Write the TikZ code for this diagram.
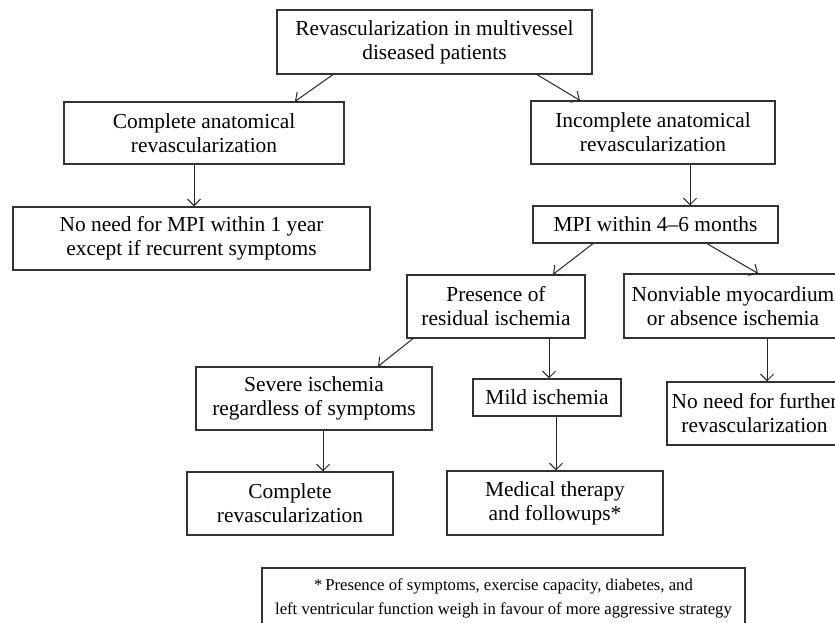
\documentclass[tikz,border=0pt]{standalone}
\usepackage{fontspec}
\setmainfont{Liberation Serif}
\usetikzlibrary{arrows.meta,calc}
\begin{document}
\begin{tikzpicture}[x=1pt,y=-1pt,
  box/.style={draw=black!80, line width=1.2pt, align=center, inner sep=0pt,
    font=\fontsize{21.4}{24}\selectfont},
  note/.style={box, font=\fontsize{16.7}{24}\selectfont},
  conn/.style={draw=black!85, line width=1pt, -{Straight Barb[length=6.5pt,width=13pt]}}]
\useasboundingbox (0,0) rectangle (835,622);
\clip (0,0) rectangle (835,622);
\fill[white] (0,0) rectangle (835,622);

\node[box, minimum width=315, minimum height=64] (A) at (434.5,42)
  {Revascularization in multivessel\\diseased patients};
\node[box, minimum width=280, minimum height=62] (B) at (204,133)
  {Complete anatomical\\revascularization};
\node[box, minimum width=357, minimum height=63] (C) at (191.5,238.5)
  {No need for MPI within 1 year\\except if recurrent symptoms};
\node[box, minimum width=244, minimum height=63] (D) at (653,132.5)
  {Incomplete anatomical\\revascularization};
\node[box, minimum width=245, minimum height=37] (E) at (655.5,224.5)
  {MPI within 4--6 months};
\node[box, minimum width=178, minimum height=63] (F) at (496,306.5)
  {Presence of\\residual ischemia};
\node[box, minimum width=218, minimum height=64] (G) at (733,306)
  {Nonviable myocardium\\or absence ischemia};
\node[box, minimum width=175, minimum height=63] (H) at (754.5,413.5)
  {No need for further\\revascularization};
\node[box, minimum width=236, minimum height=63] (I) at (314,398.5)
  {Severe ischemia\\regardless of symptoms};
\node[box, minimum width=148, minimum height=37] (J) at (547,397.5)
  {Mild ischemia};
\node[box, minimum width=206, minimum height=63] (K) at (290,503.5)
  {Complete\\revascularization};
\node[box, minimum width=216, minimum height=64] (L) at (555,503)
  {Medical therapy\\and followups*};
\node[note, minimum width=483, minimum height=60] (M) at (503.5,598)
  {*\,Presence of symptoms, exercise capacity, diabetes, and\\left ventricular function weigh in favour of more aggressive strategy};

\draw[conn] ([xshift=-101.5pt]A.south) -- ([xshift=91pt]B.north);
\draw[conn] ([xshift=102.5pt]A.south) -- ([xshift=-73pt]D.north);
\draw[conn] ([xshift=-10pt]B.south) -- ([xshift=2.5pt]C.north);
\draw[conn] ([xshift=37pt]D.south) -- ([xshift=34.5pt]E.north);
\draw[conn] ([xshift=-62.5pt]E.south) -- ([xshift=57pt]F.north);
\draw[conn] ([xshift=51.5pt]E.south) -- ([xshift=25pt]G.north);
\draw[conn] ([xshift=-83pt]F.south) -- ([xshift=64pt]I.north);
\draw[conn] ([xshift=53pt]F.south) -- ([xshift=2pt]J.north);
\draw[conn] ([xshift=34pt]G.south) -- ([xshift=12.5pt]H.north);
\draw[conn] ([xshift=9pt]I.south) -- ([xshift=33pt]K.north);
\draw[conn] ([xshift=9pt]J.south) -- ([xshift=1pt]L.north);
\end{tikzpicture}
\end{document}
